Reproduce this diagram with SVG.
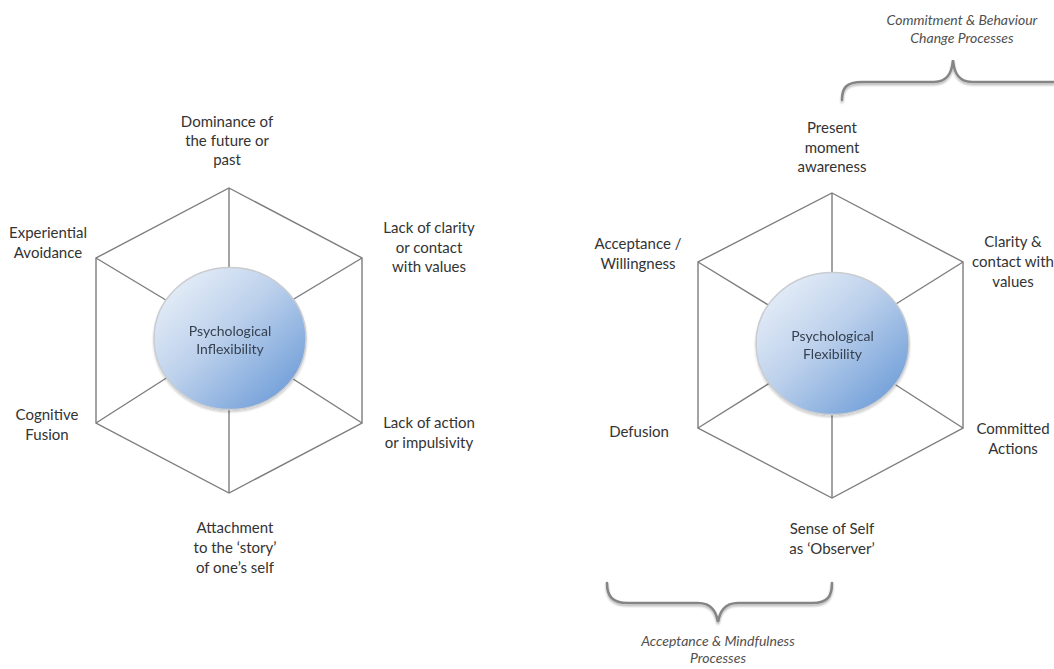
<svg xmlns="http://www.w3.org/2000/svg" width="1054" height="669" viewBox="0 0 1054 669">
  <defs>
    <linearGradient id="ballFill" x1="0" y1="0" x2="1" y2="1">
      <stop offset="0" stop-color="#f2f6fb"/>
      <stop offset="0.45" stop-color="#bdd1ec"/>
      <stop offset="1" stop-color="#5f93d4"/>
    </linearGradient>
    <filter id="soft" x="-10%" y="-10%" width="120%" height="130%">
      <feGaussianBlur in="SourceAlpha" stdDeviation="1.2"/>
      <feOffset dx="0" dy="1.5" result="b"/>
      <feComponentTransfer><feFuncA type="linear" slope="0.2"/></feComponentTransfer>
      <feMerge><feMergeNode/><feMergeNode in="SourceGraphic"/></feMerge>
    </filter>
    <filter id="braceShade" x="-5%" y="-20%" width="110%" height="160%">
      <feGaussianBlur in="SourceAlpha" stdDeviation="1"/>
      <feOffset dx="0" dy="1.5"/>
      <feComponentTransfer><feFuncA type="linear" slope="0.3"/></feComponentTransfer>
      <feMerge><feMergeNode/><feMergeNode in="SourceGraphic"/></feMerge>
    </filter>
  </defs>
  <style>
    .hex { fill: none; stroke: #7d7d7d; stroke-width: 1.4; stroke-linejoin: miter; }
    .ball { fill: url(#ballFill); stroke: #c9ccd0; stroke-width: 1.5; }
    .lbl { font-family: Lato, "Liberation Sans", sans-serif; font-size: 15px; fill: #333333; text-anchor: middle; }
    .core { font-family: Lato, "Liberation Sans", sans-serif; font-size: 14px; fill: #36414f; text-anchor: middle; }
    .brace { fill: none; stroke: #858585; stroke-width: 2.6; stroke-linecap: round; }
    .note { font-family: Lato, "Liberation Sans", sans-serif; font-size: 14px; font-style: italic; fill: #505050; text-anchor: middle; }
  </style>
  <rect width="1054" height="669" fill="#ffffff"/>

  <!-- hexagon frames: outline plus spokes to the hub -->
  <g id="connectors">
    <g id="left-frame">
      <polygon class="hex" points="229,188 362,258 362,423 229,493 96,423 96,258"/>
      <path class="hex" d="M229,188 L229,338 M362,258 L229,338 M362,423 L229,338 M229,493 L229,338 M96,423 L229,338 M96,258 L229,338"/>
    </g>
    <g id="right-frame">
      <polygon class="hex" points="832,193 963,262 963,428 832,498 698,428 698,262"/>
      <path class="hex" d="M832,193 L832,344 M963,262 L832,344 M963,428 L832,344 M832,498 L832,344 M698,428 L832,344 M698,262 L832,344"/>
    </g>
  </g>

  <g id="node-inflexibility" filter="url(#soft)">
    <ellipse class="ball" cx="230" cy="338.5" rx="76" ry="71"/>
    <text class="core" x="230" y="336">Psychological</text>
    <text class="core" x="230" y="354">Inflexibility</text>
  </g>

  <g id="node-flexibility" filter="url(#soft)">
    <ellipse class="ball" cx="832.5" cy="343.5" rx="76.5" ry="71"/>
    <text class="core" x="832.5" y="341">Psychological</text>
    <text class="core" x="832.5" y="359">Flexibility</text>
  </g>

  <!-- left labels -->
  <g id="node-dominance">
    <text class="lbl" x="227" y="127">Dominance of</text>
    <text class="lbl" x="227" y="146">the future or</text>
    <text class="lbl" x="227" y="165">past</text>
  </g>
  <g id="node-avoidance">
    <text class="lbl" x="48" y="238">Experiential</text>
    <text class="lbl" x="48" y="258">Avoidance</text>
  </g>
  <g id="node-values-lack">
    <text class="lbl" x="429" y="233">Lack of clarity</text>
    <text class="lbl" x="429" y="253">or contact</text>
    <text class="lbl" x="429" y="272">with values</text>
  </g>
  <g id="node-fusion">
    <text class="lbl" x="47" y="420">Cognitive</text>
    <text class="lbl" x="47" y="440">Fusion</text>
  </g>
  <g id="node-action-lack">
    <text class="lbl" x="429" y="428">Lack of action</text>
    <text class="lbl" x="429" y="448">or impulsivity</text>
  </g>
  <g id="node-story">
    <text class="lbl" x="235" y="533">Attachment</text>
    <text class="lbl" x="235" y="553">to the ‘story’</text>
    <text class="lbl" x="235" y="573">of one’s self</text>
  </g>

  <!-- right labels -->
  <g id="node-present">
    <text class="lbl" x="832" y="133">Present</text>
    <text class="lbl" x="832" y="153">moment</text>
    <text class="lbl" x="832" y="172">awareness</text>
  </g>
  <g id="node-acceptance">
    <text class="lbl" x="638" y="249">Acceptance /</text>
    <text class="lbl" x="638" y="269">Willingness</text>
  </g>
  <g id="node-values">
    <text class="lbl" x="1013" y="247">Clarity &amp;</text>
    <text class="lbl" x="1013" y="267">contact with</text>
    <text class="lbl" x="1013" y="287">values</text>
  </g>
  <g id="node-defusion">
    <text class="lbl" x="639" y="437">Defusion</text>
  </g>
  <g id="node-committed">
    <text class="lbl" x="1013" y="434">Committed</text>
    <text class="lbl" x="1013" y="454">Actions</text>
  </g>
  <g id="node-self">
    <text class="lbl" x="832" y="534">Sense of Self</text>
    <text class="lbl" x="832" y="554">as ‘Observer’</text>
  </g>

  <!-- process brackets -->
  <g id="group-commitment">
    <path class="brace" filter="url(#braceShade)" d="M842,100 C842,88 846,82 862,82 L934,82 C948,82 952,72 953,60 C954,72 958,82 972,82 L1054,82"/>
    <text class="note" x="962" y="25">Commitment &amp; Behaviour</text>
    <text class="note" x="962" y="43" fill="#3f3f3f">Change Processes</text>
  </g>
  <g id="group-acceptance">
    <path class="brace" filter="url(#braceShade)" d="M607,583 C607,596 612,603 628,603 L698,603 C712,603 716,612 718,622 C720,612 724,603 738,603 L812,603 C828,603 832,596 832,583"/>
    <text class="note" x="718" y="646" fill="#3f3f3f">Acceptance &amp; Mindfulness</text>
    <text class="note" x="718" y="663">Processes</text>
  </g>
</svg>
